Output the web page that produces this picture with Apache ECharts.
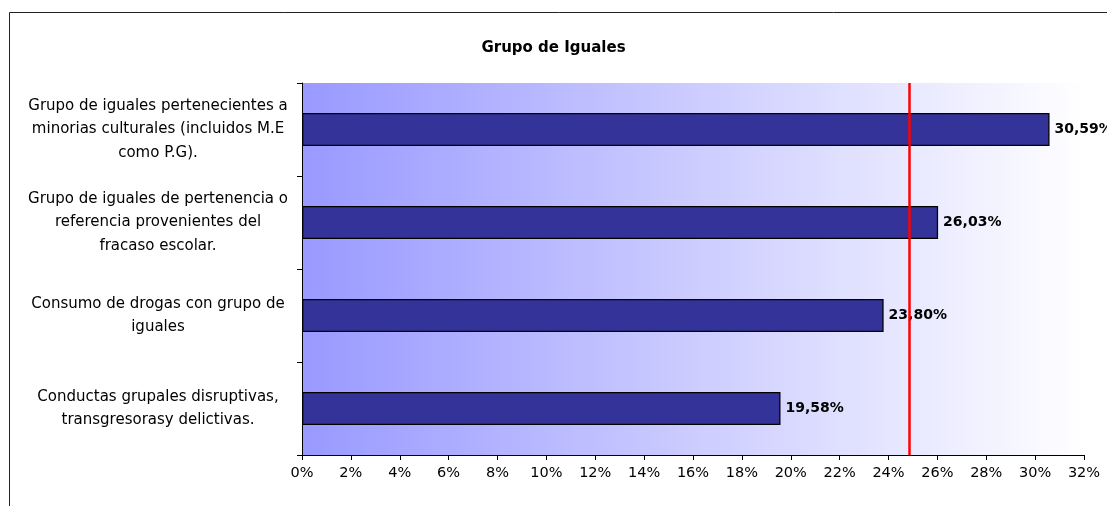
<!DOCTYPE html>
<html>
<head>
<meta charset="utf-8">
<script src="https://cdn.jsdelivr.net/npm/echarts@6/dist/echarts.min.js"></script>
<style>
html,body{margin:0;padding:0;background:#fff;}
#c{width:1107px;height:506px;}
</style>
</head>
<body>
<div id="c"></div>
<script>
var categories = [
  "Grupo de iguales pertenecientes a\nminorias culturales (incluidos M.E\ncomo P.G).",
  "Grupo de iguales de pertenencia o\nreferencia provenientes del\nfracaso escolar.",
  "Consumo de drogas con grupo de\niguales",
  "Conductas grupales disruptivas,\ntransgresorasy delictivas."
];
var values = [30.59, 26.03, 23.80, 19.58];
var referenceValue = 24.85;
var xMin = 0, xMax = 32, xStep = 2;

var chart = echarts.init(document.getElementById('c'), null, {renderer: 'canvas'});
var FONT = 'DejaVu Sans';
chart.setOption({
  animation: false,
  backgroundColor: '#ffffff',
  title: {
    text: 'Grupo de Iguales',
    left: 'center',
    top: 36,
    textStyle: {fontFamily: FONT, fontWeight: 'bold', fontSize: 15, color: '#000'}
  },
  graphic: [{
    type: 'rect',
    shape: {x: 9.5, y: 12.5, width: 1200, height: 600},
    style: {fill: 'none', stroke: '#222', lineWidth: 1}
  }],
  grid: {
    left: 302, right: 23, top: 83, bottom: 51,
    show: true, borderWidth: 0,
    backgroundColor: new echarts.graphic.LinearGradient(0, 0, 1, 0, [
      {offset: 0, color: '#9999ff'},
      {offset: 1, color: '#ffffff'}
    ])
  },
  xAxis: {
    type: 'value',
    min: xMin, max: xMax, interval: xStep,
    axisLine: {show: true, lineStyle: {color: '#000', width: 1}},
    axisTick: {show: true, length: 5, lineStyle: {color: '#000'}},
    splitLine: {show: false},
    axisLabel: {
      formatter: '{value}%', margin: 11,
      fontFamily: FONT, fontSize: 14.5, color: '#000'
    }
  },
  yAxis: {
    type: 'category',
    data: categories,
    inverse: true,
    axisLine: {show: true, lineStyle: {color: '#000', width: 1}},
    axisTick: {show: true, length: 5, alignWithLabel: false, lineStyle: {color: '#000'}},
    axisLabel: {
      align: 'center', margin: 144, lineHeight: 23.5,
      padding: [6, 0, 0, 0],
      fontFamily: FONT, fontSize: 15, color: '#000'
    }
  },
  series: [{
    type: 'bar',
    data: values,
    barWidth: 33,
    itemStyle: {color: '#333399', borderColor: '#000', borderWidth: 1.3},
    label: {
      show: true, position: 'right', distance: 5,
      fontFamily: FONT, fontWeight: 'bold', fontSize: 14, color: '#000',
      formatter: function (p) { return p.value.toFixed(2).replace('.', ',') + '%'; }
    },
    markLine: {
      silent: true,
      symbol: ['none', 'none'],
      label: {show: false},
      lineStyle: {color: '#ff0000', width: 2.5, type: 'solid'},
      data: [{xAxis: referenceValue}]
    }
  }]
});
</script>
</body>
</html>
